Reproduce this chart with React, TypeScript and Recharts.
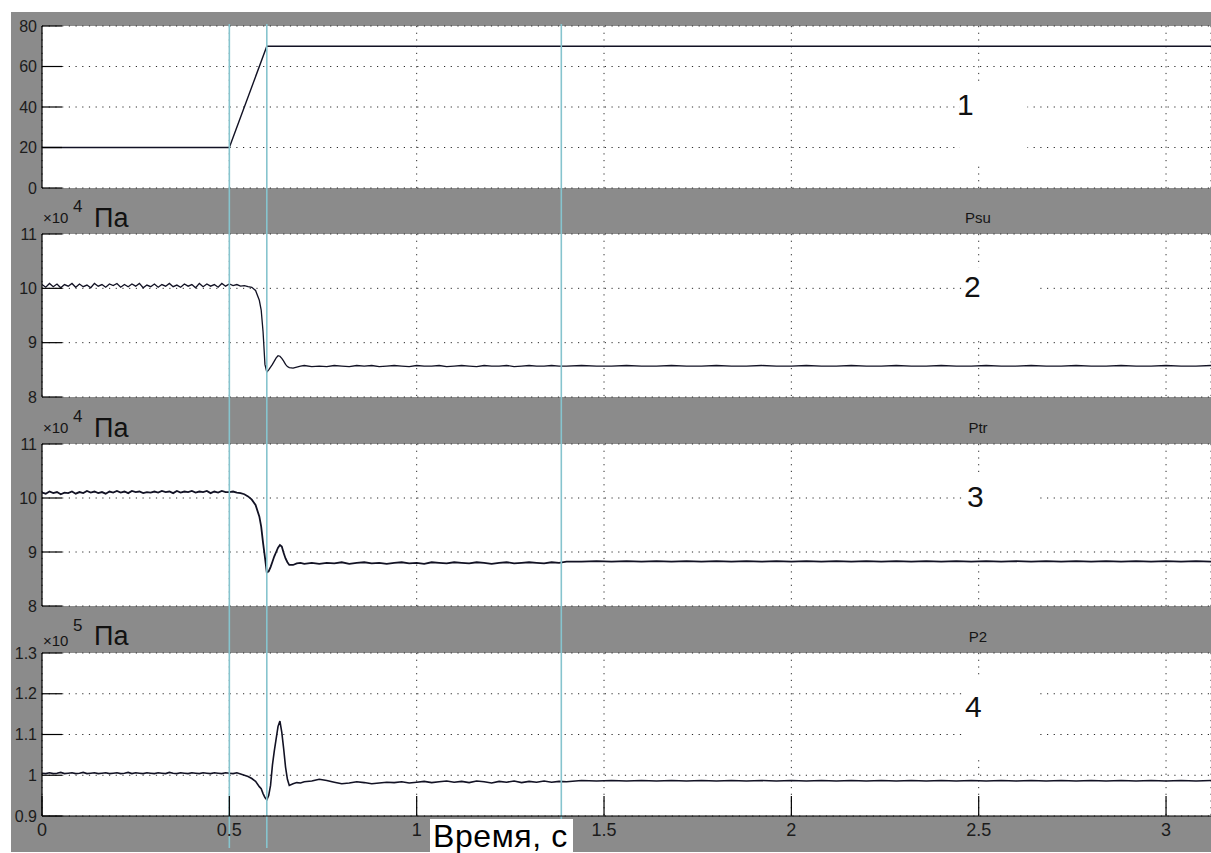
import React from "react";
import { LineChart, Line, XAxis, YAxis, CartesianGrid, ReferenceLine, ReferenceArea } from "recharts";

// ---------------- data ----------------
const setpointTime = [0, 0.5, 0.6, 3.12];
const setpointValue = [20, 20, 70, 70];

const timeGrid = [
  0, 0.01, 0.02, 0.03, 0.04, 0.05, 0.06, 0.07, 0.08, 0.09,
  0.1, 0.11, 0.12, 0.13, 0.14, 0.15, 0.16, 0.17, 0.18, 0.19,
  0.2, 0.21, 0.22, 0.23, 0.24, 0.25, 0.26, 0.27, 0.28, 0.29,
  0.3, 0.31, 0.32, 0.33, 0.34, 0.35, 0.36, 0.37, 0.38, 0.39,
  0.4, 0.41, 0.42, 0.43, 0.44, 0.45, 0.46, 0.47, 0.48, 0.49,
  0.5, 0.51, 0.52, 0.53, 0.54, 0.55, 0.56, 0.57, 0.58, 0.585,
  0.59, 0.595, 0.6, 0.605, 0.61, 0.615, 0.62, 0.625, 0.63, 0.635,
  0.64, 0.645, 0.65, 0.655, 0.66, 0.67, 0.68, 0.69, 0.7, 0.72,
  0.74, 0.76, 0.78, 0.8, 0.82, 0.84, 0.86, 0.88, 0.9, 0.92,
  0.94, 0.96, 0.98, 1.0, 1.02, 1.04, 1.06, 1.08, 1.1, 1.12,
  1.14, 1.16, 1.18, 1.2, 1.22, 1.24, 1.26, 1.28, 1.3, 1.32,
  1.34, 1.36, 1.38, 1.4, 1.44, 1.48, 1.52, 1.56, 1.6, 1.64,
  1.68, 1.72, 1.76, 1.8, 1.84, 1.88, 1.92, 1.96, 2.0, 2.04,
  2.08, 2.12, 2.16, 2.2, 2.24, 2.28, 2.32, 2.36, 2.4, 2.44,
  2.48, 2.52, 2.56, 2.6, 2.64, 2.68, 2.72, 2.76, 2.8, 2.84,
  2.88, 2.92, 2.96, 3.0, 3.04, 3.08, 3.12,
];

// Psu, x10^4 Pa
const psuValue = [
  10.07, 10.02, 10.09, 10.03, 10.08, 10.01, 10.07, 10.04, 10.09, 10.02,
  10.08, 10.03, 10.06, 10.01, 10.09, 10.04, 10.07, 10.02, 10.08, 10.05,
  10.09, 10.02, 10.07, 10.03, 10.08, 10.04, 10.09, 10.01, 10.06, 10.03,
  10.08, 10.02, 10.07, 10.04, 10.09, 10.03, 10.06, 10.02, 10.08, 10.04,
  10.07, 10.01, 10.09, 10.03, 10.08, 10.04, 10.07, 10.02, 10.09, 10.04,
  10.08, 10.05, 10.07, 10.04, 10.05, 10.03, 10.02, 9.96, 9.78, 9.6,
  9.2, 8.6, 8.46, 8.5, 8.55, 8.6, 8.66, 8.72, 8.76, 8.75,
  8.71, 8.66, 8.6, 8.56, 8.54, 8.53, 8.55, 8.57, 8.58, 8.56,
  8.57, 8.56, 8.58, 8.57, 8.56, 8.58, 8.57, 8.58, 8.56, 8.57,
  8.58, 8.57, 8.56, 8.58, 8.57, 8.57, 8.58, 8.56, 8.57, 8.58,
  8.57, 8.56, 8.58, 8.57, 8.57, 8.58, 8.56, 8.57, 8.58, 8.57,
  8.57, 8.58, 8.57, 8.57, 8.58, 8.57, 8.57, 8.58, 8.57, 8.57,
  8.58, 8.57, 8.57, 8.58, 8.57, 8.57, 8.58, 8.57, 8.57, 8.58,
  8.57, 8.57, 8.58, 8.57, 8.57, 8.58, 8.57, 8.57, 8.58, 8.57,
  8.57, 8.58, 8.57, 8.57, 8.58, 8.57, 8.57, 8.58, 8.57, 8.57,
  8.58, 8.57, 8.57, 8.58, 8.57, 8.57, 8.58,
];

// Ptr, x10^4 Pa
const ptrValue = [
  10.1, 10.08, 10.12, 10.09, 10.11, 10.07, 10.1, 10.09, 10.12, 10.08,
  10.11, 10.09, 10.13, 10.1, 10.12, 10.09, 10.11, 10.08, 10.12, 10.1,
  10.13, 10.1, 10.12, 10.09, 10.13, 10.11, 10.12, 10.09, 10.11, 10.1,
  10.12, 10.1, 10.13, 10.11, 10.12, 10.09, 10.13, 10.1, 10.12, 10.11,
  10.13, 10.1, 10.12, 10.11, 10.13, 10.09, 10.12, 10.1, 10.13, 10.11,
  10.11, 10.12, 10.1, 10.09, 10.07, 10.03, 9.97, 9.87, 9.66, 9.47,
  9.17, 8.9, 8.62, 8.64, 8.72, 8.82, 8.92, 9.0, 9.08, 9.13,
  9.1, 8.98, 8.88, 8.81, 8.76, 8.76, 8.79, 8.8, 8.78, 8.8,
  8.78, 8.8, 8.79, 8.81, 8.78, 8.8, 8.81, 8.79, 8.8, 8.78,
  8.8, 8.81, 8.79, 8.8, 8.78, 8.81, 8.8, 8.79, 8.81, 8.8,
  8.79, 8.81, 8.8, 8.78, 8.8, 8.81, 8.79, 8.8, 8.81, 8.8,
  8.79, 8.81, 8.8, 8.82, 8.82, 8.83, 8.82, 8.83, 8.82, 8.83,
  8.82, 8.83, 8.82, 8.83, 8.82, 8.83, 8.82, 8.83, 8.82, 8.83,
  8.82, 8.83, 8.82, 8.83, 8.82, 8.83, 8.82, 8.83, 8.82, 8.83,
  8.82, 8.83, 8.82, 8.83, 8.82, 8.83, 8.82, 8.83, 8.82, 8.83,
  8.82, 8.83, 8.82, 8.83, 8.82, 8.83, 8.82,
];

// P2, x10^5 Pa
const p2Value = [
  1.005, 1.004, 1.006, 1.004, 1.005, 1.007, 1.004, 1.005, 1.006, 1.004,
  1.005, 1.007, 1.004, 1.005, 1.006, 1.004, 1.005, 1.006, 1.004, 1.005,
  1.006, 1.004, 1.005, 1.007, 1.004, 1.006, 1.005, 1.004, 1.006, 1.005,
  1.004, 1.006, 1.005, 1.004, 1.007, 1.005, 1.004, 1.006, 1.005, 1.004,
  1.006, 1.005, 1.004, 1.006, 1.005, 1.004, 1.006, 1.005, 1.004, 1.006,
  1.005, 1.004, 1.006, 1.003, 1.0, 0.997, 0.992, 0.985, 0.972, 0.967,
  0.955, 0.945, 0.94, 0.95, 0.975, 1.025, 1.06, 1.09, 1.12, 1.133,
  1.105, 1.065, 1.02, 0.99, 0.975, 0.979, 0.982, 0.981, 0.984, 0.986,
  0.99, 0.987, 0.983, 0.979, 0.981, 0.984, 0.982, 0.979, 0.981, 0.983,
  0.982, 0.984, 0.981, 0.983, 0.985, 0.982, 0.984, 0.986, 0.983, 0.985,
  0.982, 0.986, 0.984, 0.981, 0.985, 0.983, 0.986, 0.982, 0.985, 0.983,
  0.986, 0.983, 0.985, 0.984, 0.987, 0.986, 0.987, 0.986, 0.987, 0.986,
  0.987, 0.986, 0.987, 0.986, 0.987, 0.986, 0.987, 0.986, 0.987, 0.986,
  0.987, 0.986, 0.987, 0.986, 0.987, 0.986, 0.987, 0.986, 0.987, 0.986,
  0.987, 0.986, 0.987, 0.986, 0.987, 0.986, 0.987, 0.986, 0.987, 0.986,
  0.987, 0.986, 0.987, 0.986, 0.987, 0.986, 0.987,
];

const xTicks = [0, 0.5, 1, 1.5, 2, 2.5, 3];
const xTickLabels = ["0", "0.5", "1", "1.5", "2", "2.5", "3"];
const yTicksSetpoint = [0, 20, 40, 60, 80];
const yTicksPressure4 = [8, 9, 10, 11];
const yTicksPressure5 = [0.9, 1, 1.1, 1.2, 1.3];
const markerTimes = [0.5, 0.6, 1.386];
const panelTitles = ["Psu", "Ptr", "P2"];
const panelNumbers = ["1", "2", "3", "4"];
const exponents = ["4", "4", "5"];
const unitLabel = "Па";
const timeAxisLabel = "Время, с";

// ---------------- styling ----------------
const CHART_W = 1211;
const PLOT_LEFT = 42;
const TICK_LEN = 20;
const X_DOMAIN: [number, number] = [0, 3.12];
const FONT = '"Liberation Sans", Arial, sans-serif';
const GRAY = "#8b8b8b";
const CYAN = "#86c4ce";
const LINE_COLOR = "#121224";
const AXIS_STYLE = { stroke: "#000", strokeWidth: 1.2 };

const toSeries = (t: number[], v: number[]) => t.map((x, i) => ({ t: x, v: v[i] }));

function YTick(props: any) {
  const { x, y, payload } = props;
  return (
    <g>
      <line x1={PLOT_LEFT} x2={PLOT_LEFT + TICK_LEN} y1={y} y2={y} stroke="#000" strokeWidth={1.2} />
      <text x={x} y={y} textAnchor="end" dominantBaseline="central" fontSize={16} fill="#1c1c1c" fontFamily={FONT}>
        {String(payload.value)}
      </text>
    </g>
  );
}

function BottomTick(props: any) {
  const { x, y, payload, showLabel } = props;
  const idx = xTicks.indexOf(payload.value);
  return (
    <g>
      <line x1={x} x2={x} y1={y} y2={y - TICK_LEN} stroke="#000" strokeWidth={1.2} />
      {showLabel && (
        <text x={x} y={y + 14} textAnchor="middle" dominantBaseline="central" fontSize={18} fill="#1c1c1c" fontFamily={FONT}>
          {xTickLabels[idx]}
        </text>
      )}
    </g>
  );
}

function TopTick(props: any) {
  const { x, y } = props;
  return <line x1={x} x2={x} y1={y} y2={y + TICK_LEN} stroke="#000" strokeWidth={1.2} />;
}

type Box = { x1: number; x2: number; y1: number; y2: number };
type PanelProps = {
  top: number;
  height: number;
  marginTop: number;
  marginBottom: number;
  xAxisHeight: number;
  data: { t: number; v: number }[];
  yDomain: [number, number];
  yTicks: number[];
  lineWidth: number;
  cyanRange: [number, number];
  box: Box;
  showXLabels: boolean;
};

function Panel(p: PanelProps) {
  return (
    <div style={{ position: "absolute", left: 0, top: p.top }}>
      <LineChart
        width={CHART_W}
        height={p.height}
        data={p.data}
        margin={{ top: p.marginTop, right: 0, bottom: p.marginBottom, left: 0 }}
      >
        <CartesianGrid stroke="#2a2a2a" strokeDasharray="1.2 5.5" fill="#ffffff" fillOpacity={1} />
        <ReferenceArea
          x1={p.box.x1}
          x2={p.box.x2}
          y1={p.box.y1}
          y2={p.box.y2}
          fill="#ffffff"
          fillOpacity={1}
          stroke="none"
          ifOverflow="visible"
        />
        <XAxis
          type="number"
          dataKey="t"
          domain={X_DOMAIN}
          ticks={xTicks}
          interval={0}
          allowDataOverflow
          height={p.xAxisHeight}
          tickLine={false}
          tickSize={0}
          tickMargin={0}
          axisLine={AXIS_STYLE}
          tick={(props: any) => <BottomTick {...props} showLabel={p.showXLabels} />}
        />
        <XAxis
          xAxisId="top"
          orientation="top"
          type="number"
          dataKey="t"
          domain={X_DOMAIN}
          ticks={xTicks}
          interval={0}
          allowDataOverflow
          height={0}
          tickLine={false}
          tickSize={0}
          tickMargin={0}
          axisLine={AXIS_STYLE}
          tick={(props: any) => <TopTick {...props} />}
        />
        <YAxis
          type="number"
          domain={p.yDomain}
          ticks={p.yTicks}
          interval={0}
          allowDataOverflow
          width={PLOT_LEFT}
          tickLine={false}
          tickSize={0}
          tickMargin={5}
          axisLine={AXIS_STYLE}
          tick={(props: any) => <YTick {...props} />}
        />
        <Line
          type="linear"
          dataKey="v"
          stroke={LINE_COLOR}
          strokeWidth={p.lineWidth}
          dot={false}
          activeDot={false}
          isAnimationActive={false}
        />
        {markerTimes.map((t) => (
          <ReferenceLine
            key={t}
            segment={[
              { x: t, y: p.cyanRange[0] },
              { x: t, y: p.cyanRange[1] },
            ]}
            stroke={CYAN}
            strokeWidth={1.6}
            ifOverflow="visible"
          />
        ))}
      </LineChart>
    </div>
  );
}

export default function App() {
  const bandY = [
    { x10: 223, exp: 212, unit: 227, title: 223 },
    { x10: 433, exp: 422, unit: 437, title: 433 },
    { x10: 646, exp: 631, unit: 645, title: 642 },
  ];
  const numberPos = [
    { x: 957, y: 115 },
    { x: 964, y: 297 },
    { x: 967, y: 507 },
    { x: 965, y: 717 },
  ];
  return (
    <div
      style={{
        position: "absolute",
        left: 0,
        top: 0,
        width: 1211,
        height: 853,
        overflow: "hidden",
        background: "#ffffff",
      }}
    >
      <div style={{ position: "absolute", left: 11, top: 12, width: 1200, height: 840, background: GRAY }} />
      <Panel
        top={12}
        height={186}
        marginTop={14}
        marginBottom={10}
        xAxisHeight={0}
        data={toSeries(setpointTime, setpointValue)}
        yDomain={[0, 80]}
        yTicks={yTicksSetpoint}
        lineWidth={1.4}
        cyanRange={[0, 81]}
        box={{ x1: 2.45, x2: 2.63, y1: 12.3, y2: 52.3 }}
        showXLabels={false}
      />
      <Panel
        top={188}
        height={219}
        marginTop={46}
        marginBottom={10}
        xAxisHeight={0}
        data={toSeries(timeGrid, psuValue)}
        yDomain={[8, 11]}
        yTicks={yTicksPressure4}
        lineWidth={1.3}
        cyanRange={[8, 11.85]}
        box={{ x1: 2.458, x2: 2.656, y1: 9.09, y2: 10.39 }}
        showXLabels={false}
      />
      <Panel
        top={397}
        height={219}
        marginTop={47}
        marginBottom={10}
        xAxisHeight={0}
        data={toSeries(timeGrid, ptrValue)}
        yDomain={[8, 11]}
        yTicks={yTicksPressure4}
        lineWidth={1.8}
        cyanRange={[8, 11.87]}
        box={{ x1: 2.458, x2: 2.656, y1: 9.06, y2: 10.39 }}
        showXLabels={false}
      />
      <Panel
        top={606}
        height={247}
        marginTop={47}
        marginBottom={0}
        xAxisHeight={37}
        data={toSeries(timeGrid, p2Value)}
        yDomain={[0.9, 1.3]}
        yTicks={yTicksPressure5}
        lineWidth={1.6}
        cyanRange={[0.8215, 1.4155]}
        box={{ x1: 2.463, x2: 2.656, y1: 1.042, y2: 1.241 }}
        showXLabels={true}
      />
      <svg
        width={1211}
        height={853}
        style={{ position: "absolute", left: 0, top: 0, pointerEvents: "none" }}
        fontFamily={FONT}
      >
        {bandY.map((b, i) => (
          <g key={i}>
            <text x={43} y={b.x10} fontSize={15} fill="#151515">
              ×10
            </text>
            <text x={73} y={b.exp} fontSize={17} fill="#151515">
              {exponents[i]}
            </text>
            <text x={94} y={b.unit} fontSize={27} fill="#111">
              {unitLabel}
            </text>
            <text x={978} y={b.title} fontSize={15} fill="#151515" textAnchor="middle">
              {panelTitles[i]}
            </text>
          </g>
        ))}
        {numberPos.map((n, i) => (
          <text key={i} x={n.x} y={n.y} fontSize={30} fill="#111">
            {panelNumbers[i]}
          </text>
        ))}
        <rect x={430} y={819} width={143} height={34} fill="#ffffff" />
        <text x={433} y={847} fontSize={32} letterSpacing={0.6} fill="#000">
          {timeAxisLabel}
        </text>
      </svg>
    </div>
  );
}
